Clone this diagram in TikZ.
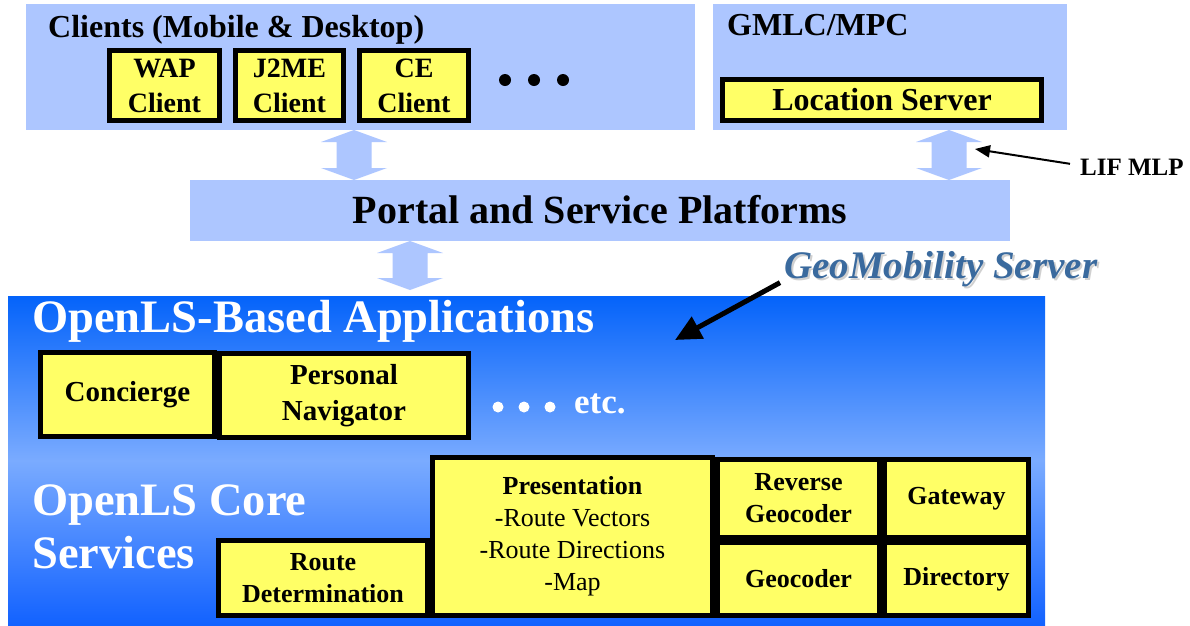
\documentclass[tikz,border=0pt]{standalone}
\usepackage{fontspec}
\setmainfont{Liberation Serif}
\usetikzlibrary{arrows.meta,calc}

\definecolor{panelblue}{HTML}{ADC6FF}
\definecolor{boxyellow}{HTML}{FFFF66}
\definecolor{gradtop}{HTML}{0463FA}
\definecolor{gradmid}{HTML}{7AABFF}
\definecolor{gradbot}{HTML}{1262FF}
\definecolor{geoblue}{HTML}{3A6A9E}

% block double arrow between two points on one vertical line
\newcommand{\flowarrow}[2]{%
  \fill[panelblue] let \p1=(#1), \p2=(#2) in
    (\x1,\y1) -- (\x1+33pt,\y1-12pt) -- (\x1+17.5pt,\y1-12pt) -- (\x1+17.5pt,\y2+12pt)
    -- (\x1+33pt,\y2+12pt) -- (\x1,\y2) -- (\x1-33pt,\y2+12pt) -- (\x1-17.5pt,\y2+12pt)
    -- (\x1-17.5pt,\y1-12pt) -- (\x1-33pt,\y1-12pt) -- cycle;}

\tikzset{
  panel/.style={fill=panelblue, draw=none, anchor=north west, inner sep=0pt, outer sep=0pt},
  unit/.style={fill=boxyellow, draw=black, line width=5pt, anchor=north west,
    inner sep=0pt, outer sep=0pt, align=center, font=\bfseries\fontsize{28}{35}\selectfont},
  app/.style={unit, font=\bfseries\fontsize{29}{36}\selectfont},
  core/.style={unit, font=\bfseries\fontsize{26}{32}\selectfont},
  heading/.style={anchor=base west, inner sep=0pt, font=\bfseries\fontsize{32}{38}\selectfont},
  bigwhite/.style={anchor=base west, inner sep=0pt, text=white, align=left,
    font=\bfseries\fontsize{46.5}{53}\selectfont},
  blackdot/.style={fill=black, circle, inner sep=0pt, minimum size=12pt},
  whitedot/.style={fill=white, circle, inner sep=0pt, minimum size=11pt},
}

\begin{document}
\begin{tikzpicture}[x=1pt, y=-1pt]
\useasboundingbox (0,0) rectangle (1190,625);
\fill[white] (0,0) rectangle (1190,625);

% upper panels
\node[panel, minimum width=669pt, minimum height=126pt] (clients) at (26,4) {};
\node[panel, minimum width=354pt, minimum height=126pt] (gmlc) at (713,4) {};
\node[panel, minimum width=820pt, minimum height=61pt] (portal) at (190,180) {};

\node[heading] (clientstitle) at (48,37) {Clients (Mobile \& Desktop)};
\node[heading] (gmlctitle) at (727,35) {GMLC/MPC};

\node[unit, minimum width=110pt, minimum height=70pt] (wap) at (109.5,50.5) {WAP\\Client};
\node[unit, minimum width=108pt, minimum height=70pt] (j2me) at (235.5,50.5) {J2ME\\Client};
\node[unit, minimum width=109pt, minimum height=70pt] (ce) at (359.5,50.5) {CE\\Client};
\node[blackdot] (dot1) at (505,80) {};
\node[blackdot] (dot2) at (534,80) {};
\node[blackdot] (dot3) at (563,80) {};

\node[unit, font=\bfseries\fontsize{32}{38}\selectfont, minimum width=319pt, minimum height=41pt]
  (locsrv) at (722.5,79.5) {Location Server};

\node[anchor=base, inner sep=0pt, font=\bfseries\fontsize{40}{46}\selectfont]
  (portaltitle) at (600,223) {Portal and Service Platforms};

% flows between the layers
\flowarrow{354,0 |- clients.south}{354,0 |- portal.north}
\flowarrow{949,0 |- gmlc.south}{949,0 |- portal.north}
\flowarrow{410,0 |- portal.south}{410,290}

% interface label
\node[anchor=base west, inner sep=0pt, font=\bfseries\fontsize{25}{30}\selectfont]
  (lifmlp) at (1080,175) {LIF MLP};
\coordinate (mlptip) at (975,149);
\draw[line width=2pt, -{Triangle[length=15pt,width=12pt]}] (lifmlp.west) ++(-10,-3) -- (mlptip);

% server area
\node[panel, minimum width=1037pt, minimum height=329pt,
  top color=gradtop, bottom color=gradbot, middle color=gradmid] (server) at (8,296) {};

\node[anchor=base west, inner sep=0pt, text=black!30, opacity=0.6,
  font=\bfseries\itshape\fontsize{39}{44}\selectfont] (geoshadow) at (786,280) {GeoMobility Server};
\node[anchor=base west, inner sep=0pt, text=geoblue,
  font=\bfseries\itshape\fontsize{39}{44}\selectfont] (geomob) at (784,278) {GeoMobility Server};
\coordinate (geotip) at (675,340);
\draw[line width=5pt, -{Triangle[length=26pt,width=24pt]}] (geomob.south west) ++(-4,-4) -- (geotip);

\node[bigwhite] (appstitle) at (32,332) {OpenLS-Based Applications};
\node[app, minimum width=174pt, minimum height=84pt] (concierge) at (40.5,352.5) {Concierge};
\node[app, minimum width=249pt, minimum height=84pt] (navigator) at (219.5,353.5) {Personal\\Navigator};
\node[whitedot] (wdot1) at (498,407) {};
\node[whitedot] (wdot2) at (524,407) {};
\node[whitedot] (wdot3) at (550,407) {};
\node[anchor=base west, inner sep=0pt, text=white, font=\bfseries\fontsize{35}{40}\selectfont]
  (etc) at (574,413) {etc.};

\node[bigwhite] (coretitle) at (32,568) {OpenLS Core\\Services};

\node[core, minimum width=209pt, minimum height=75pt] (routedet) at (218.5,540.5) {Route\\Determination};
\node[core, font=\fontsize{26}{32}\selectfont, minimum width=280pt, minimum height=158pt]
  (presentation) at (432.5,457.5)
  {{\bfseries Presentation}\\-Route Vectors\\-Route Directions\\-Map};
\node[core, minimum width=162pt, minimum height=78pt] (revgeo) at (717.5,459.5) {Reverse\\Geocoder};
\node[core, minimum width=144pt, minimum height=78pt] (gateway) at (884.5,459.5) {Gateway};
\node[core, minimum width=162pt, minimum height=73pt] (geocoder) at (717.5,542.5) {Geocoder};
\node[core, minimum width=144pt, minimum height=73pt] (directory) at (884.5,542.5) {Directory};
\end{tikzpicture}
\end{document}
